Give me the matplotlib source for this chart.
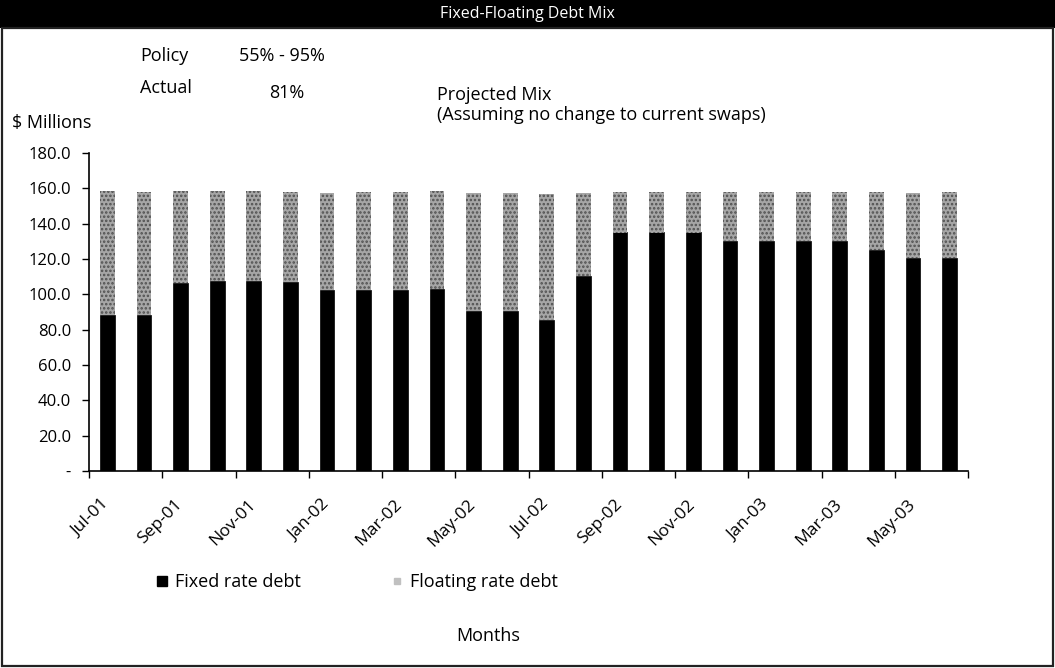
import matplotlib
matplotlib.use("Agg")
import matplotlib.pyplot as plt
from matplotlib.patches import Rectangle
from matplotlib.lines import Line2D
from matplotlib.transforms import ScaledTranslation
import numpy as np

plt.rcParams['font.family'] = ['Open Sans', 'DejaVu Sans']
plt.rcParams['hatch.linewidth'] = 1.2

months = ["Jul-01", "Aug-01", "Sep-01", "Oct-01", "Nov-01", "Dec-01",
          "Jan-02", "Feb-02", "Mar-02", "Apr-02", "May-02", "Jun-02",
          "Jul-02", "Aug-02", "Sep-02", "Oct-02", "Nov-02", "Dec-02",
          "Jan-03", "Feb-03", "Mar-03", "Apr-03", "May-03", "Jun-03"]

fixed_rate = [88.5, 88.5, 106.5, 107.5, 107.5, 107.0, 102.5, 102.5, 102.5, 103.0,
              90.5, 90.5, 85.5, 110.5, 135.0, 135.0, 135.0, 130.0, 130.0, 130.0,
              130.0, 125.0, 120.5, 120.5]

floating_rate = [70.0, 69.5, 52.0, 51.0, 51.0, 51.0, 55.0, 55.5, 55.5, 55.5,
                 67.0, 67.0, 71.5, 47.0, 23.0, 23.0, 23.0, 28.0, 28.0, 28.0,
                 28.0, 33.0, 37.0, 37.5]

y_ticks = [0, 20, 40, 60, 80, 100, 120, 140, 160, 180]

W, H = 1055, 668
fig = plt.figure(figsize=(W / 100, H / 100), dpi=100)
fig.patch.set_facecolor("white")


def fy(py):
    """Pixel row (from the top) to figure fraction."""
    return 1 - py / H


# Title bar
fig.add_artist(Rectangle((0, fy(28)), 1, 28 / H, transform=fig.transFigure,
                         facecolor="black", edgecolor="none"))
fig.text(0.5, fy(14), "Fixed-Floating Debt Mix", color="white",
         ha="center", va="center", fontsize=11.5)
# Frame round the chart area
fig.add_artist(Rectangle((1.5 / W, 2 / H), 1 - 3.5 / W, 1 - 30 / H,
                         transform=fig.transFigure, facecolor="none",
                         edgecolor="#222222", linewidth=1.6))

ax = fig.add_axes([89 / W, fy(471), (968 - 89) / W, (471 - 153) / H])
x = np.arange(len(months))
width = 0.4
ax.bar(x, fixed_rate, width, color="black", edgecolor="black", linewidth=0.5,
       label="Fixed rate debt")
ax.bar(x, floating_rate, width, bottom=fixed_rate, color="#a6a6a6",
       edgecolor="#505050", linewidth=0, hatch="....",
       label="Floating rate debt")

ax.set_xlim(-0.5, len(months) - 0.5)
ax.set_ylim(0, 180)

for side in ("top", "right"):
    ax.spines[side].set_visible(False)
for side in ("left", "bottom"):
    ax.spines[side].set_linewidth(1.2)

ax.set_yticks(y_ticks)
ax.set_yticklabels(["-" if v == 0 else f"{v:.1f}" for v in y_ticks], fontsize=12)
ax.tick_params(axis="y", direction="out", length=5, width=1, pad=8)

# Tick marks between every second month, labels on the labelled months
ax.set_xticks(np.arange(-0.5, len(months), 2))
ax.set_xticklabels([])
ax.tick_params(axis="x", which="major", direction="out", length=5, width=1)
ax.set_xticks(x[::2], minor=True)
ax.set_xticklabels(months[::2], minor=True, rotation=45, ha="right",
                   rotation_mode="anchor", fontsize=12.5)
ax.tick_params(axis="x", which="minor", length=0, pad=18)
shift = ScaledTranslation(-6 / 100, 0, fig.dpi_scale_trans)
for lbl in ax.get_xticklabels(minor=True):
    lbl.set_transform(lbl.get_transform() + shift)

# Annotations above the plot
txt = dict(fontsize=13, va="baseline", ha="left")
fig.text(140 / W, fy(61), "Policy", **txt)
fig.text(239 / W, fy(61), "55% - 95%", **txt)
fig.text(140 / W, fy(93), "Actual", **txt)
fig.text(269 / W, fy(98), "81%", **txt)
fig.text(437 / W, fy(100), "Projected Mix", **txt)
fig.text(437 / W, fy(120), "(Assuming no change to current swaps)", **txt)
fig.text(12 / W, fy(128), "$ Millions", **txt)

# Legend
handles = [
    Line2D([], [], marker="s", linestyle="none", markersize=7.5,
           markerfacecolor="black", markeredgecolor="black"),
    Line2D([], [], marker="s", linestyle="none", markersize=4,
           markerfacecolor="#c0c0c0", markeredgecolor="#c0c0c0"),
]
fig.legend(handles, ["Fixed rate debt", "Floating rate debt"], loc="center left",
           bbox_to_anchor=(156 / W, fy(582)), ncol=2, frameon=False,
           fontsize=13, handlelength=0.7, handletextpad=0.35, columnspacing=5.0,
           borderpad=0, borderaxespad=0)

fig.text(488 / W, fy(636), "Months", fontsize=13, ha="center", va="center")

fig.savefig("out.png", dpi=100)
